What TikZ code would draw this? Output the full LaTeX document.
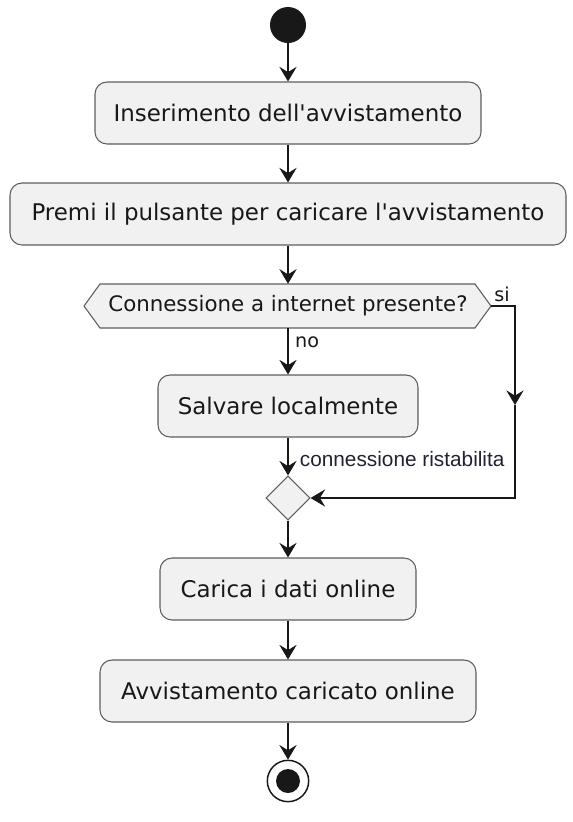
\documentclass[tikz,border=0pt]{standalone}
\usepackage{fontspec}
\setmainfont{DejaVu Sans}[Ligatures=TeXOff]
\newfontfamily\lblfont{Liberation Sans}[Ligatures=TeXOff]
\usetikzlibrary{arrows.meta,shapes.geometric}
\definecolor{boxfill}{HTML}{F1F1F1}
\definecolor{ink}{HTML}{181818}
\definecolor{lbl}{HTML}{222233}
\tikzset{
  actbox/.style={draw=ink!70, line width=0.8pt, fill=boxfill, rounded corners=9pt,
    minimum height=46.5pt, inner sep=0pt, font=\fontsize{17.2}{19}\selectfont, text=ink},
  flow/.style={draw=ink, line width=0.8pt, -{Stealth[length=11pt,width=13pt,inset=4pt]}},
  smalllbl/.style={font=\fontsize{14.4}{16}\selectfont, text=ink, inner sep=0pt},
}
\begin{document}
\begin{tikzpicture}[x=0.75pt,y=-0.75pt]
\useasboundingbox (0,0) rectangle (573,822);
% start
\node[circle, fill=ink, minimum size=27pt, inner sep=0pt] (start) at (288,25) {};
% boxes
\node[actbox, minimum width=289.5pt] (b1) at (288,113) {Inserimento dell'avvistamento};
\node[actbox, minimum width=417pt] (b2) at (288,214) {Premi il pulsante per caricare l'avvistamento};
% decision hexagon
\draw[draw=ink!70, line width=0.8pt, fill=boxfill] (84,306) -- (100,284) -- (475,284) -- (491,306) -- (475,328) -- (100,328) -- cycle;
\node[inner sep=0pt, minimum width=281pt, minimum height=33pt, font=\fontsize{16}{18}\selectfont, text=ink] (dec) at (288,306) {Connessione a internet presente?};
\coordinate (decR) at (491,306);
\node[actbox, minimum width=195pt] (b3) at (288,406) {Salvare localmente};
% merge diamond
\node[diamond, aspect=1, draw=ink!70, line width=0.8pt, fill=boxfill, minimum width=33pt, minimum height=33pt, inner sep=0pt] (merge) at (288,498) {};
\node[actbox, minimum width=192pt] (b4) at (288,589) {Carica i dati online};
\node[actbox, minimum width=282pt] (b5) at (288,691) {Avvistamento caricato online};
% end
\node[circle, draw=ink, line width=1.1pt, fill=white, minimum size=31pt, inner sep=0pt] (end) at (288,781) {};
\node[circle, fill=ink, minimum size=18pt, inner sep=0pt] (endin) at (end) {};
% connectors
\draw[flow] (start) -- (b1);
\draw[flow] (b1) -- (b2);
\draw[flow] (b2) -- (dec.north);
\draw[flow] (dec.south) -- node[smalllbl, anchor=west, pos=0.3, xshift=5pt] {no} (b3);
\coordinate (siturn) at (515,306);
\coordinate (simid) at (515,405);
\draw[flow] (decR) -- (siturn) -- (simid);
\draw[flow] (simid) |- (merge.east);
\node[smalllbl, anchor=south west] (silbl) at (494,302) {si};
\draw[flow] (b3) -- node[anchor=west, pos=0.58, xshift=8.5pt, inner sep=0pt, font=\lblfont\fontsize{15.6}{17}\selectfont, text=lbl] {connessione ristabilita} (merge.north);
\draw[flow] (merge.south) -- (b4);
\draw[flow] (b4) -- (b5);
\draw[flow] (b5) -- (end);
\end{tikzpicture}
\end{document}
